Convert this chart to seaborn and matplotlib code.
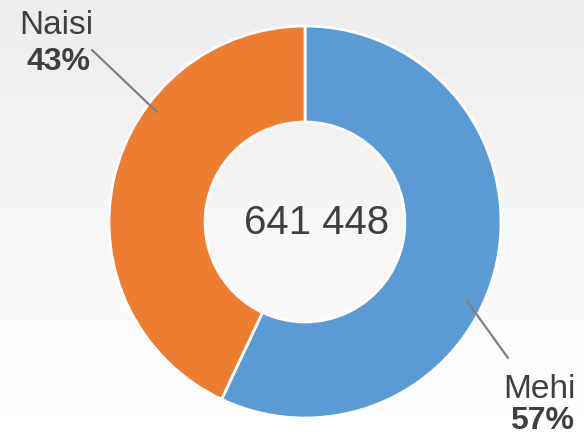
import numpy as np
import seaborn as sns
import matplotlib.pyplot as plt

# data
labels = ['Mehi', 'Naisi']
shares = [57, 43]
total_label = '641 448'
colors = ['#5B9BD5', '#ED7D31']

sns.set_theme(style='white')
plt.rcParams['font.family'] = ['Liberation Sans', 'DejaVu Sans']

W, H, DPI = 584, 435, 100
fig = plt.figure(figsize=(W / DPI, H / DPI), dpi=DPI)

# soft grey-to-white background gradient
bg = fig.add_axes([0, 0, 1, 1], zorder=-10)
grad = np.linspace(0.925, 1.0, 256).reshape(-1, 1)
bg.imshow(grad, cmap='gray', vmin=0, vmax=1, aspect='auto', extent=[0, 1, 0, 1])
bg.axis('off')

# donut axes: centre (305, 223) px, radius ~196 px
cx, cy, r = 305, 223, 196
ax = fig.add_axes([(cx - r) / W, (H - cy - r) / H, 2 * r / W, 2 * r / H])
ax.pie(shares, colors=colors, startangle=90, counterclock=False,
       wedgeprops=dict(width=0.49, edgecolor='white', linewidth=2))
ax.set_xlim(-1, 1)
ax.set_ylim(-1, 1)
ax.set_aspect('equal')
ax.axis('off')

ax.text(0.06, 0.0, total_label, ha='center', va='center',
        fontsize=29, color='#404040')

# leader lines and labels (data units, radius = 1)
def px(x, y):
    return (x - cx) / r, (cy - y) / r

line_kw = dict(color='#7F7F7F', lw=1.6, clip_on=False)
(x0, y0), (x1, y1) = px(92, 51), px(157, 113)
ax.plot([x0, x1], [y0, y1], **line_kw)
(x0, y0), (x1, y1) = px(467, 302), px(508, 359)
ax.plot([x0, x1], [y0, y1], **line_kw)

text_kw = dict(ha='center', va='center', color='#404040', clip_on=False)
ax.text(*px(56, 26), labels[1], fontsize=24, **text_kw)
ax.text(*px(58, 62), f'{shares[1]}%', fontsize=23, fontweight='bold', **text_kw)
ax.text(*px(539, 390), labels[0], fontsize=24, **text_kw)
ax.text(*px(542, 421), f'{shares[0]}%', fontsize=23, fontweight='bold', **text_kw)

fig.savefig('out.png', dpi=DPI)
